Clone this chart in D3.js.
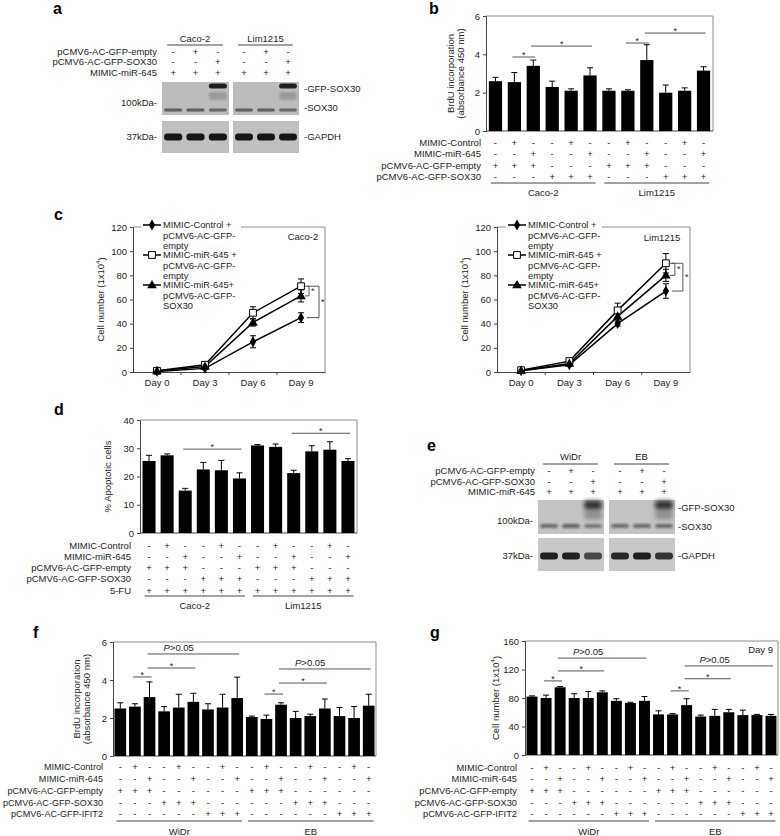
<!DOCTYPE html>
<html><head><meta charset="utf-8">
<script src="https://cdn.jsdelivr.net/npm/d3@7"></script>
<style>
body{margin:0;background:#fff;}
svg{display:block;}
</style></head><body>
<svg id="fig" width="780" height="836"></svg>
<script>
// ---------------- DATA ----------------
// Western blot lane intensities (6 lanes: 3 per cell line)
const blotALanes = ["Caco-2", "Lim1215"];
const blotAGfpSox30 = [0, 0, 0.95, 0, 0, 0.95];
const blotASmear = [0, 0, 0.18, 0, 0, 0.18];
const blotASox30 = [0.55, 0.55, 0.5, 0.55, 0.55, 0.5];
const blotAGapdh = [1, 1, 1, 1, 1, 1];
const blotELanes = ["WiDr", "EB"];
const blotEGfpSox30 = [0, 0, 0.85, 0, 0, 0.85];
const blotESmear = [0, 0, 0.25, 0, 0, 0.25];
const blotESox30 = [0.5, 0.55, 0.45, 0.5, 0.5, 0.5];
const blotEGapdh = [0.95, 0.95, 0.7, 0.9, 0.95, 0.85];
const blotEmpty = ["-", "+", "-", "-", "+", "-"];
const blotSox30 = ["-", "-", "+", "-", "-", "+"];
const blotMiR = ["+", "+", "+", "+", "+", "+"];

// Panel b: BrdU incorporation
const bValues = [2.6, 2.55, 3.4, 2.3, 2.1, 2.9, 2.1, 2.1, 3.7, 2.0, 2.1, 3.15];
const bErrors = [0.2, 0.5, 0.3, 0.3, 0.1, 0.4, 0.1, 0.05, 0.8, 0.4, 0.15, 0.2];
const bTicks = [0, 2, 4, 6];
const bCtrl  = ["-","+","-","-","+","-","-","+","-","-","+","-"];
const bMiR   = ["-","-","+","-","-","+","-","-","+","-","-","+"];
const bEmpty = ["+","+","+","-","-","-","+","+","+","-","-","-"];
const bSox   = ["-","-","-","+","+","+","-","-","-","+","+","+"];
const bSig = [{a:1,b:2,v:3.86,label:"*"},{a:2,b:5,v:4.43,label:"*"},{a:7,b:8,v:4.59,label:"*"},{a:8,b:11,v:5.11,label:"*"}];

// Panel c: cell number
const days = ["Day 0", "Day 3", "Day 6", "Day 9"];
const cTicks = [0, 20, 40, 60, 80, 100, 120];
const cSeriesNames = [["MIMIC-Control +","pCMV6-AC-GFP-","empty"],["MIMIC-miR-645 +","pCMV6-AC-GFP-","empty"],["MIMIC-miR-645+","pCMV6-AC-GFP-","SOX30"]];
const cCacoCtrl = [0.5, 3, 25, 45],  cCacoCtrlErr = [0.5, 1, 5, 4];
const cCacoMiR  = [1, 6, 49, 71],    cCacoMiRErr  = [0.8, 1.5, 5, 6];
const cCacoSox  = [0.8, 4.5, 41, 63], cCacoSoxErr = [0.5, 1, 3, 5];
const cLimCtrl = [1, 6, 40, 67],   cLimCtrlErr = [0.5, 1, 2, 6];
const cLimMiR  = [1.5, 9, 51, 90], cLimMiRErr  = [0.8, 1.5, 6, 8];
const cLimSox  = [1, 7, 46, 80],   cLimSoxErr  = [0.5, 1, 3, 5];

// Panel d: % apoptotic cells
const dValues = [25.5, 27.5, 15, 22.5, 22.2, 19.3, 31, 30.5, 21.2, 28.9, 29.5, 25.5];
const dErrors = [2, 0.5, 0.8, 2.5, 3.5, 2, 0.3, 1, 1, 2, 2.8, 0.8];
const dTicks = [0, 10, 20, 30, 40];
const dFU = ["+","+","+","+","+","+","+","+","+","+","+","+"];
const dSig = [{a:2,b:5,v:29.7,label:"*"},{a:8,b:11,v:35.3,label:"*"}];

// Panels f, g
const fgCtrl  = ["-","+","-","-","+","-","-","+","-","-","+","-","-","+","-","-","+","-"];
const fgMiR   = ["-","-","+","-","-","+","-","-","+","-","-","+","-","-","+","-","-","+"];
const fgEmpty = ["+","+","+","-","-","-","-","-","-","+","+","+","-","-","-","-","-","-"];
const fgSox   = ["-","-","-","+","+","+","-","-","-","-","-","-","+","+","+","-","-","-"];
const fgIfit  = ["-","-","-","-","-","-","+","+","+","-","-","-","-","-","-","+","+","+"];
const fValues = [2.5, 2.6, 3.1, 2.35, 2.55, 2.85, 2.45, 2.55, 3.05, 2.05, 1.95, 2.7, 2.0, 2.1, 2.5, 2.1, 2.0, 2.65];
const fErrors = [0.3, 0.15, 0.8, 0.25, 0.7, 0.45, 0.3, 0.7, 1.1, 0.05, 0.2, 0.1, 0.35, 0.1, 0.5, 0.45, 0.6, 0.6];
const fTicks = [0, 2, 4, 6];
const fSig = [{a:1,b:2,v:4.16,label:"*"},{a:2,b:5,v:4.63,label:"*"},{a:2,b:8,v:5.37,label:"P"},
              {a:10,b:11,v:3.26,label:"*"},{a:11,b:14,v:3.84,label:"*"},{a:11,b:17,v:4.58,label:"P"}];
const gValues = [82, 80, 95, 80, 80, 88, 76, 73, 76, 57, 57, 70, 54, 55, 60, 56, 56, 55];
const gErrors = [1, 4, 1, 6, 9, 2, 3, 1, 6, 5, 1, 9, 2, 9, 4, 7, 1, 2];
const gTicks = [0, 40, 80, 120, 160];
const gSig = [{a:1,b:2,v:104,label:"*"},{a:2,b:5,v:118,label:"*"},{a:2,b:8,v:136,label:"P"},
              {a:10,b:11,v:90,label:"*"},{a:11,b:14,v:107,label:"*"},{a:11,b:17,v:125,label:"P"}];

// ---------------- DRAWING ----------------
const FONT = '"Liberation Sans", Arial, Helvetica, sans-serif';
const TXT = "#1c1c1c";
const FS = 9.5;
const svg = d3.select("#fig").attr("font-family", FONT);

const defs = svg.append("defs");
[["blur1",0.7],["blur2",1.3],["blur3",2.0]].forEach(([id,s])=>{
  defs.append("filter").attr("id",id).attr("x","-30%").attr("y","-100%").attr("width","160%").attr("height","300%")
    .append("feGaussianBlur").attr("stdDeviation",s);
});

function txt(g, x, y, s, o = {}) {
  const t = g.append("text").attr("x", x).attr("y", y).attr("dy", "0.35em")
    .attr("font-size", o.fs || FS).attr("text-anchor", o.anchor || "start")
    .attr("fill", o.fill || TXT).text(s);
  if (o.bold) t.attr("font-weight", "bold");
  return t;
}
function panelLetter(x, y, s) {
  svg.append("text").attr("x", x).attr("y", y).attr("font-size", 16).attr("font-weight", "bold").attr("fill", "#000").text(s);
}
function pLabel(g, x, y) {
  const t = g.append("text").attr("x", x).attr("y", y).attr("text-anchor", "middle").attr("font-size", FS).attr("fill", TXT);
  t.append("tspan").attr("font-style", "italic").text("P");
  t.append("tspan").text(">0.05");
}

function symbolRows(g, xc, rows, names, rowY, labelX, fs) {
  rows.forEach((r, ri) => {
    txt(g, labelX, rowY[ri], names[ri], { anchor: "end", fs: fs || FS });
    g.append("g").selectAll("text").data(r).join("text")
      .attr("x", (d, i) => xc(i)).attr("y", rowY[ri]).attr("dy", "0.35em")
      .attr("text-anchor", "middle").attr("font-size", FS).attr("fill", TXT).text(d => d);
  });
}

function barPanel(c) {
  const g = svg.append("g");
  const n = c.values.length;
  const x = d3.scaleBand().domain(d3.range(n)).range([c.x0, c.x1]).paddingInner(c.pad).paddingOuter(c.pad / 2);
  const xc = i => x(i) + x.bandwidth() / 2;
  const y = d3.scaleLinear().domain(c.domain).range([c.yBot, c.yTop]);
  g.append("path").attr("d", `M${c.x0},${c.yTop}H${c.x1}V${c.yBot}`).attr("fill", "none").attr("stroke", "#8c8c8c");
  const ax = g.append("g").attr("transform", `translate(${c.x0},0)`)
    .call(d3.axisLeft(y).tickValues(c.ticks).tickSize(3).tickPadding(3).tickFormat(d3.format("d")));
  ax.attr("font-family", FONT).attr("font-size", FS);
  ax.selectAll("path,line").attr("stroke", "#444");
  ax.selectAll("text").attr("fill", TXT);
  g.append("line").attr("x1", c.x0).attr("x2", c.x1).attr("y1", c.yBot).attr("y2", c.yBot).attr("stroke", "#444");
  // error bars (upper)
  const eg = g.append("g").attr("stroke", "#000").attr("stroke-width", 1);
  eg.selectAll("line.v").data(c.values).join("line").attr("class", "v")
    .attr("x1", (d, i) => xc(i)).attr("x2", (d, i) => xc(i))
    .attr("y1", d => y(d)).attr("y2", (d, i) => y(d + c.errors[i]));
  eg.selectAll("line.h").data(c.values).join("line").attr("class", "h")
    .attr("x1", (d, i) => xc(i) - 3).attr("x2", (d, i) => xc(i) + 3)
    .attr("y1", (d, i) => y(d + c.errors[i])).attr("y2", (d, i) => y(d + c.errors[i]));
  g.append("g").selectAll("rect").data(c.values).join("rect")
    .attr("x", (d, i) => x(i)).attr("width", x.bandwidth())
    .attr("y", d => y(d)).attr("height", d => y(c.domain[0]) - y(d)).attr("fill", "#000");
  // significance
  c.sig.forEach(s => {
    const xa = xc(s.a) - 2, xb = xc(s.b) + 2, yy = y(s.v);
    g.append("line").attr("x1", xa).attr("x2", xb).attr("y1", yy).attr("y2", yy).attr("stroke", "#555");
    if (s.label === "*") {
      g.append("text").attr("x", (xa + xb) / 2).attr("y", yy + 1).attr("text-anchor", "middle")
        .attr("font-size", 9).attr("fill", TXT).text("*");
    } else {
      pLabel(g, xa + 0.34 * (xb - xa), yy - 3);
    }
  });
  symbolRows(g, xc, c.rows, c.rowNames, c.rowY, c.rowLabelX, c.rowFs);
  c.groups.forEach(gr => {
    const xa = x(gr.from) + 2, xb = x(gr.to) + x.bandwidth() - 1;
    g.append("line").attr("x1", xa).attr("x2", xb).attr("y1", c.groupLineY).attr("y2", c.groupLineY).attr("stroke", "#444");
    txt(g, (xa + xb) / 2, c.groupLabelY, gr.label, { anchor: "middle" });
  });
  const mid = (c.yTop + c.yBot) / 2;
  c.ylabel.forEach((lab, i) => {
    const t = g.append("text").attr("transform", `translate(${c.ylabelX[i]},${mid}) rotate(-90)`)
      .attr("text-anchor", "middle").attr("dy", "0.35em").attr("font-size", FS).attr("fill", TXT);
    if (lab === "CELLNUM") {
      t.append("tspan").text("Cell number (1x10");
      t.append("tspan").attr("font-size", 6).attr("dy", "-0.8em").text("4");
      t.append("tspan").attr("dy", "0.55em").text(")");
    } else t.text(lab);
  });
  if (c.corner) txt(g, c.corner.x, c.corner.y, c.corner.text, { anchor: "end" });
  return g;
}

function marker(g, type, x, y) {
  if (type === "diamond") g.append("path").attr("d", d3.symbol(d3.symbolDiamond, 34)()).attr("transform", `translate(${x},${y})`).attr("fill", "#000");
  else if (type === "square") g.append("path").attr("d", d3.symbol(d3.symbolSquare, 46)()).attr("transform", `translate(${x},${y})`).attr("fill", "#fff").attr("stroke", "#000").attr("stroke-width", 1);
  else g.append("path").attr("d", d3.symbol(d3.symbolTriangle, 40)()).attr("transform", `translate(${x},${y + 0.5})`).attr("fill", "#000");
}

function linePanel(c) {
  const g = svg.append("g");
  const x = d3.scaleBand().domain(days).range([c.x0, c.x1]);
  const xc = d => x(d) + x.bandwidth() / 2;
  const y = d3.scaleLinear().domain([0, 120]).range([c.yBot, c.yTop]);
  g.append("path").attr("d", `M${c.x0},${c.yTop}H${c.x1}V${c.yBot}`).attr("fill", "none").attr("stroke", "#8c8c8c");
  const ax = g.append("g").attr("transform", `translate(${c.x0},0)`)
    .call(d3.axisLeft(y).tickValues(cTicks).tickSize(3).tickPadding(3));
  ax.attr("font-family", FONT).attr("font-size", FS);
  ax.selectAll("path,line").attr("stroke", "#444");
  ax.selectAll("text").attr("fill", TXT);
  const bx = g.append("g").attr("transform", `translate(0,${c.yBot})`).call(d3.axisBottom(x).tickSize(0).tickPadding(7));
  bx.attr("font-family", FONT).attr("font-size", FS);
  bx.select(".domain").attr("stroke", "#444");
  bx.selectAll("text").attr("fill", TXT);
  g.append("g").selectAll("line").data(days.slice(1)).join("line")
    .attr("x1", d => x(d)).attr("x2", d => x(d)).attr("y1", c.yBot).attr("y2", c.yBot + 3).attr("stroke", "#444");
  const line = d3.line().x((d, i) => xc(days[i])).y(d => y(d));
  c.series.forEach(s => {
    g.append("path").attr("d", line(s.vals)).attr("fill", "none").attr("stroke", "#000").attr("stroke-width", 1.5);
  });
  c.series.forEach(s => {
    const eg = g.append("g").attr("stroke", "#000").attr("stroke-width", 1);
    s.vals.forEach((v, i) => {
      const cx = xc(days[i]), e = s.errs[i];
      eg.append("line").attr("x1", cx).attr("x2", cx).attr("y1", y(v - e)).attr("y2", y(v + e));
      [v - e, v + e].forEach(w => eg.append("line").attr("x1", cx - 3).attr("x2", cx + 3).attr("y1", y(w)).attr("y2", y(w)));
    });
  });
  c.series.forEach(s => s.vals.forEach((v, i) => marker(g, s.sym, xc(days[i]), y(v))));
  // brackets at Day 9
  const d9 = xc("Day 9");
  c.brackets.forEach(b => {
    const y1 = y(c.series[b.s1].vals[3]), y2 = y(c.series[b.s2].vals[3]);
    const xv = d9 + b.dx, xs = d9 + b.start;
    g.append("path").attr("d", `M${xs},${y1}H${xv}V${y2}H${xs}`).attr("fill", "none").attr("stroke", "#555");
    g.append("text").attr("x", xv + 2).attr("y", (y1 + y2) / 2 + 3).attr("font-size", 9).attr("fill", TXT).text("*");
  });
  // legend
  const lg = g.append("g");
  lg.append("rect").attr("x", c.legX - 2).attr("y", c.yTop - 9).attr("width", c.legW).attr("height", 92).attr("fill", "#fff");
  c.series.forEach((s, i) => {
    const ly = c.legY[i];
    lg.append("line").attr("x1", c.legX).attr("x2", c.legX + 18).attr("y1", ly).attr("y2", ly).attr("stroke", "#000").attr("stroke-width", 1.5);
    marker(lg, s.sym, c.legX + 9, ly);
    cSeriesNames[i].forEach((t, k) => txt(lg, c.legX + 20, ly + [0, 11, 21][k], t, { fs: 9.3 }));
  });
  txt(g, c.title.x, c.title.y, c.title.text, { anchor: "middle" });
  const t = g.append("text").attr("transform", `translate(${c.ylabelX},${(c.yTop + c.yBot) / 2}) rotate(-90)`)
    .attr("text-anchor", "middle").attr("dy", "0.35em").attr("font-size", FS).attr("fill", TXT);
  t.append("tspan").text("Cell number (1x10");
  t.append("tspan").attr("font-size", 6).attr("dy", "-0.8em").text("4");
  t.append("tspan").attr("dy", "0.55em").text(")");
}

function blotPanel(c) {
  const g = svg.append("g");
  const laneScales = c.panels.map(p => d3.scaleBand().domain(d3.range(3)).range([p.x0, p.x1]).paddingInner(0.1).paddingOuter(0.05));
  c.panels.forEach((p, pi) => {
    const lane = laneScales[pi];
    c.boxes.forEach(b => g.append("rect").attr("x", p.x0).attr("width", p.x1 - p.x0).attr("y", b.y0).attr("height", b.y1 - b.y0).attr("fill", b.fill));
    c.bands.forEach(bd => {
      g.append("g").attr("filter", `url(#${bd.blur})`).selectAll("rect").data(bd.intens.slice(pi * 3, pi * 3 + 3)).join("rect")
        .attr("x", (d, i) => lane(i) + 1).attr("width", lane.bandwidth() - 2)
        .attr("y", bd.yc - bd.h / 2).attr("height", bd.h).attr("rx", Math.min(bd.h / 2, 3))
        .attr("fill", "#141414").attr("opacity", d => d);
    });
    const xa = lane(0) + 4, xb = lane(2) + lane.bandwidth() - 5;
    g.append("line").attr("x1", xa).attr("x2", xb).attr("y1", c.headLineY).attr("y2", c.headLineY).attr("stroke", "#444");
    txt(g, (xa + xb) / 2, c.headY, c.lanesNames[pi], { anchor: "middle" });
  });
  const xcAll = i => { const l = laneScales[Math.floor(i / 3)]; return l(i % 3) + l.bandwidth() / 2; };
  symbolRows(g, xcAll, [blotEmpty, blotSox30, blotMiR], ["pCMV6-AC-GFP-empty", "pCMV6-AC-GFP-SOX30", "MIMIC-miR-645"], c.rowY, c.rowLabelX);
  c.rightLabels.forEach(l => txt(g, c.rightX, l.y, l.t));
  c.leftLabels.forEach(l => txt(g, c.leftX, l.y, l.t, { anchor: "end" }));
}

// ---- panel a
panelLetter(53, 14, "a");
blotPanel({
  panels: [{ x0: 162, x1: 229 }, { x0: 233, x1: 299 }],
  boxes: [{ y0: 82, y1: 115, fill: "#bcbcbc" }, { y0: 121, y1: 153, fill: "#c0c0c0" }],
  bands: [
    { yc: 86, h: 5, blur: "blur1", intens: blotAGfpSox30 },
    { yc: 96, h: 8, blur: "blur2", intens: blotASmear },
    { yc: 110, h: 3, blur: "blur1", intens: blotASox30 },
    { yc: 137, h: 7, blur: "blur1", intens: blotAGapdh }
  ],
  lanesNames: blotALanes, headY: 39, headLineY: 45,
  rowY: [52, 62, 73], rowLabelX: 157,
  rightX: 304, rightLabels: [{ y: 89, t: "-GFP-SOX30" }, { y: 108, t: "-SOX30" }, { y: 137, t: "-GAPDH" }],
  leftX: 157, leftLabels: [{ y: 103, t: "100kDa-" }, { y: 137, t: "37kDa-" }]
});

// ---- panel b
panelLetter(429, 14, "b");
barPanel({
  x0: 486, x1: 713, yTop: 16, yBot: 131, domain: [0, 6], ticks: bTicks, pad: 0.3,
  values: bValues, errors: bErrors, sig: bSig,
  rows: [bCtrl, bMiR, bEmpty, bSox],
  rowNames: ["MIMIC-Control", "MIMIC-miR-645", "pCMV6-AC-GFP-empty", "pCMV6-AC-GFP-SOX30"],
  rowY: [143, 154, 166, 177], rowLabelX: 481,
  groups: [{ from: 0, to: 5, label: "Caco-2" }, { from: 6, to: 11, label: "Lim1215" }],
  groupLineY: 183, groupLabelY: 193,
  ylabel: ["BrdU incorporation", "(absorbance 450 nm)"], ylabelX: [451, 461]
});

// ---- panel c
panelLetter(54, 220, "c");
linePanel({
  x0: 133, x1: 325, yTop: 227, yBot: 372,
  series: [{ vals: cCacoCtrl, errs: cCacoCtrlErr, sym: "diamond" }, { vals: cCacoMiR, errs: cCacoMiRErr, sym: "square" }, { vals: cCacoSox, errs: cCacoSoxErr, sym: "triangle" }],
  brackets: [{ s1: 1, s2: 2, dx: 8, start: 4 }, { s1: 1, s2: 0, dx: 18, start: 6 }],
  legX: 143, legW: 100, legY: [225, 255, 285],
  title: { x: 303, y: 237, text: "Caco-2" }, ylabelX: 101
});
linePanel({
  x0: 497, x1: 690, yTop: 227, yBot: 372,
  series: [{ vals: cLimCtrl, errs: cLimCtrlErr, sym: "diamond" }, { vals: cLimMiR, errs: cLimMiRErr, sym: "square" }, { vals: cLimSox, errs: cLimSoxErr, sym: "triangle" }],
  brackets: [{ s1: 1, s2: 2, dx: 9, start: 4 }, { s1: 1, s2: 0, dx: 17, start: 6 }],
  legX: 508, legW: 96, legY: [225, 255, 285],
  title: { x: 662, y: 238, text: "Lim1215" }, ylabelX: 465
});

// ---- panel d
panelLetter(54, 415, "d");
barPanel({
  x0: 140, x1: 357, yTop: 420, yBot: 533, domain: [0, 40], ticks: dTicks, pad: 0.28,
  values: dValues, errors: dErrors, sig: dSig,
  rows: [bCtrl, bMiR, bEmpty, bSox, dFU],
  rowNames: ["MIMIC-Control", "MIMIC-miR-645", "pCMV6-AC-GFP-empty", "pCMV6-AC-GFP-SOX30", "5-FU"],
  rowY: [546, 557, 568, 579, 591], rowLabelX: 131,
  groups: [{ from: 0, to: 5, label: "Caco-2" }, { from: 6, to: 11, label: "Lim1215" }],
  groupLineY: 596, groupLabelY: 606,
  ylabel: ["% Apoptotic cells"], ylabelX: [108]
});

// ---- panel e
panelLetter(427, 451, "e");
blotPanel({
  panels: [{ x0: 538, x1: 604 }, { x0: 609, x1: 675 }],
  boxes: [{ y0: 500, y1: 534, fill: "#c3c3c3" }, { y0: 538, y1: 571, fill: "#c8c8c8" }],
  bands: [
    { yc: 505, h: 9, blur: "blur3", intens: blotEGfpSox30 },
    { yc: 515, h: 9, blur: "blur3", intens: blotESmear },
    { yc: 526, h: 4, blur: "blur2", intens: blotESox30 },
    { yc: 556, h: 7, blur: "blur1", intens: blotEGapdh }
  ],
  lanesNames: blotELanes, headY: 457, headLineY: 464,
  rowY: [471, 482, 492], rowLabelX: 535,
  rightX: 678, rightLabels: [{ y: 508, t: "-GFP-SOX30" }, { y: 527, t: "-SOX30" }, { y: 556, t: "-GAPDH" }],
  leftX: 533, leftLabels: [{ y: 521, t: "100kDa-" }, { y: 556, t: "37kDa-" }]
});

// ---- panel f
panelLetter(33, 638, "f");
const fgNames = ["MIMIC-Control", "MIMIC-miR-645", "pCMV6-AC-GFP-empty", "pCMV6-AC-GFP-SOX30", "pCMV6-AC-GFP-IFIT2"];
barPanel({
  x0: 113, x1: 376, yTop: 642, yBot: 756, domain: [0, 6], ticks: fTicks, pad: 0.2,
  values: fValues, errors: fErrors, sig: fSig,
  rows: [fgCtrl, fgMiR, fgEmpty, fgSox, fgIfit], rowNames: fgNames, rowFs: 9.1,
  rowY: [767, 779, 791, 803, 814], rowLabelX: 103,
  groups: [{ from: 0, to: 8, label: "WiDr" }, { from: 9, to: 17, label: "EB" }],
  groupLineY: 821, groupLabelY: 832,
  ylabel: ["BrdU incorporation", "(absorbance 450 nm)"], ylabelX: [77, 87]
});

// ---- panel g
panelLetter(430, 638, "g");
barPanel({
  x0: 525, x1: 778, yTop: 641, yBot: 755, domain: [0, 160], ticks: gTicks, pad: 0.22,
  values: gValues, errors: gErrors, sig: gSig,
  rows: [fgCtrl, fgMiR, fgEmpty, fgSox, fgIfit], rowNames: fgNames, rowFs: 9.3,
  rowY: [768, 779, 791, 803, 814], rowLabelX: 517,
  groups: [{ from: 0, to: 8, label: "WiDr" }, { from: 9, to: 17, label: "EB" }],
  groupLineY: 821, groupLabelY: 832,
  ylabel: ["CELLNUM"], ylabelX: [496],
  corner: { x: 773, y: 650, text: "Day 9" }
});
</script>
</body></html>
